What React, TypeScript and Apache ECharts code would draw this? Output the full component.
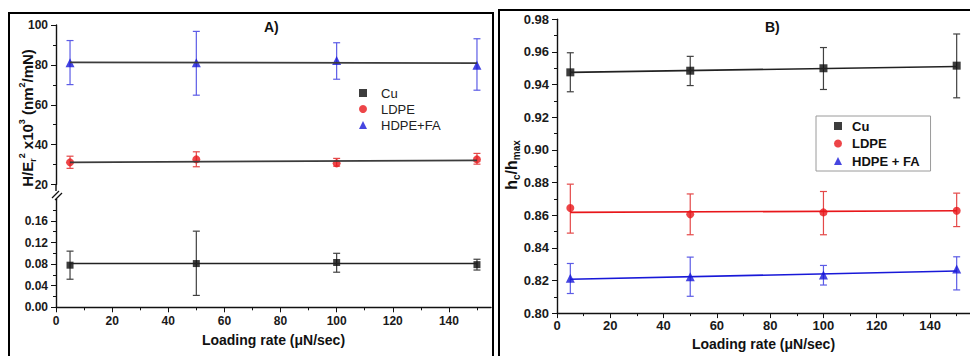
import React, { useEffect, useRef } from 'react';
import * as echarts from 'echarts';

const FONT = '"Liberation Sans", Arial, sans-serif';

const loadingRates = [5, 50, 100, 150];
const fitX = [5, 150];
const xMajorTicks = [0, 20, 40, 60, 80, 100, 120, 140];
const xMinorTicks = [10, 30, 50, 70, 90, 110, 130, 150];

// Panel A — H/Er^2 x10^3 (nm^2/mN)
const aHdpeFaMean = [81.1, 81.1, 82.2, 79.8];
const aHdpeFaLow = [70.1, 64.8, 72.8, 67.3];
const aHdpeFaHigh = [92.2, 96.8, 91.1, 93.1];
const aHdpeFaFit = [81.25, 80.9];

const aLdpeMean = [31.1, 32.6, 30.6, 32.6];
const aLdpeLow = [28.1, 28.9, 29.2, 30.2];
const aLdpeHigh = [34.2, 36.4, 33.1, 35.6];
const aLdpeFit = [31.1, 32.1];

const aCuMean = [0.078, 0.081, 0.083, 0.079];
const aCuLow = [0.052, 0.022, 0.065, 0.069];
const aCuHigh = [0.104, 0.141, 0.1, 0.089];
const aCuFit = [0.081, 0.081];

const aLowerTicks = [0, 0.04, 0.08, 0.12, 0.16];

// Panel B — hc/hmax
const bCuMean = [0.9475, 0.9485, 0.95, 0.9516];
const bCuLow = [0.9356, 0.9394, 0.937, 0.9319];
const bCuHigh = [0.9595, 0.9573, 0.9627, 0.971];
const bCuFit = [0.9475, 0.9511];

const bLdpeMean = [0.8644, 0.8605, 0.8617, 0.8627];
const bLdpeLow = [0.849, 0.848, 0.848, 0.853];
const bLdpeHigh = [0.879, 0.873, 0.8745, 0.8735];
const bLdpeFit = [0.8617, 0.8627];

const bHdpeMean = [0.8213, 0.8223, 0.8233, 0.827];
const bHdpeLow = [0.812, 0.8103, 0.8172, 0.8142];
const bHdpeHigh = [0.8304, 0.8343, 0.8292, 0.8345];
const bHdpeFit = [0.8207, 0.8258];

const BLUE = '#1818d8';
const BLUE_ERR = '#5c5ce6';
const RED = '#e8161a';
const RED_ERR = '#e44848';
const BLACK = '#0d0d0d';
const BLACK_ERR = '#404040';

const errRender = (color: string) => (params: any, api: any) => {
  const x = api.value(0);
  const top = api.coord([x, api.value(2)]);
  const bot = api.coord([x, api.value(1)]);
  const hw = 3.5;
  const style = { stroke: color, lineWidth: 1.2 };
  return {
    type: 'group',
    children: [
      { type: 'line', shape: { x1: top[0], y1: top[1], x2: bot[0], y2: bot[1] }, style },
      { type: 'line', shape: { x1: top[0] - hw, y1: top[1], x2: top[0] + hw, y2: top[1] }, style },
      { type: 'line', shape: { x1: bot[0] - hw, y1: bot[1], x2: bot[0] + hw, y2: bot[1] }, style },
    ],
  };
};

const errSeries = (name: string, low: number[], high: number[], color: string, xi: number, yi: number) => ({
  type: 'custom',
  name,
  xAxisIndex: xi,
  yAxisIndex: yi,
  renderItem: errRender(color),
  encode: { x: 0, y: [1, 2] },
  data: loadingRates.map((x, i) => [x, low[i], high[i]]),
  silent: true,
});

const fitSeries = (name: string, vals: number[], color: string, xi: number, yi: number, width = 1.6) => ({
  type: 'line',
  name,
  xAxisIndex: xi,
  yAxisIndex: yi,
  symbol: 'none',
  lineStyle: { color, width },
  data: fitX.map((x, i) => [x, vals[i]]),
  silent: true,
});

const ptSeries = (name: string, vals: number[], symbol: string, size: number, color: string, xi: number, yi: number) => ({
  type: 'scatter',
  name,
  xAxisIndex: xi,
  yAxisIndex: yi,
  symbol,
  symbolSize: size,
  itemStyle: { color },
  clip: false,
  data: loadingRates.map((x, i) => [x, vals[i]]),
});

const tickLabel = (size: number) => ({
  color: '#1a1a1a',
  fontFamily: FONT,
  fontWeight: 'bold' as const,
  fontSize: size,
});

const axisLine = { show: true, lineStyle: { color: '#111', width: 1.4 } };

export default function App() {
  const ref = useRef<HTMLDivElement>(null);
  useEffect(() => {
    document.body.style.margin = '0';
    if (!ref.current) return;
    const chart = echarts.init(ref.current, undefined, { renderer: 'svg' });
    const option: any = {
      animation: false,
      backgroundColor: '#ffffff',
      title: [
        { text: 'A)', left: 264, top: 20, padding: 0, textStyle: { fontFamily: FONT, fontSize: 14, fontWeight: 'bold', color: '#111' } },
        { text: 'B)', left: 765, top: 20, padding: 0, textStyle: { fontFamily: FONT, fontSize: 14, fontWeight: 'bold', color: '#111' } },
      ],
      legend: [
        {
          orient: 'vertical',
          left: 359,
          top: 85,
          padding: 0,
          itemGap: 0,
          itemWidth: 8,
          itemHeight: 8,
          selectedMode: false,
          data: [
            { name: 'Cu', icon: 'rect' },
            { name: 'LDPE', icon: 'circle' },
            { name: 'HDPE+FA', icon: 'triangle' },
          ],
          textStyle: { fontFamily: FONT, fontSize: 13, color: '#222', lineHeight: 16, padding: [0, 0, 0, 9] },
        },
        {
          orient: 'vertical',
          left: 816,
          top: 116,
          padding: [2, 11, 2, 18],
          itemGap: 1.5,
          itemWidth: 8,
          itemHeight: 8,
          borderColor: '#9a9a9a',
          borderWidth: 1,
          selectedMode: false,
          data: [
            { name: 'Cu', icon: 'rect' },
            { name: 'LDPE', icon: 'circle' },
            { name: 'HDPE + FA', icon: 'triangle' },
          ],
          textStyle: { fontFamily: FONT, fontSize: 13, fontWeight: 'bold', color: '#111', lineHeight: 16, padding: [0, 0, 0, 5] },
        },
      ],
      grid: [
        { left: 56, top: 25, width: 435, height: 159.5 },
        { left: 56, top: 199.3, width: 435, height: 108 },
        { left: 557, top: 19.3, width: 417, height: 295.7 },
      ],
      xAxis: [
        { gridIndex: 0, type: 'value', min: 0, max: 155, show: false },
        {
          gridIndex: 1, type: 'value', min: 0, max: 155, interval: 20, position: 'bottom',
          axisLine,
          axisTick: { show: true, length: 5, customValues: xMajorTicks, lineStyle: { color: '#111' } },
          axisLabel: { ...tickLabel(12), margin: 8, customValues: xMajorTicks },
          splitLine: { show: false },
          name: 'Loading rate (\u03bcN/sec)', nameLocation: 'middle', nameGap: 26,
          nameTextStyle: { fontFamily: FONT, fontSize: 14, fontWeight: 'bold', color: '#111' },
        },
        {
          gridIndex: 1, type: 'value', min: 0, max: 155, position: 'bottom',
          axisLine: { show: false },
          axisTick: { show: true, length: 3, customValues: xMinorTicks, lineStyle: { color: '#111' } },
          axisLabel: { show: false },
          splitLine: { show: false },
        },
        {
          gridIndex: 2, type: 'value', min: 0, max: 155, interval: 20, position: 'bottom',
          axisLine,
          axisTick: { show: true, length: 5, customValues: xMajorTicks, lineStyle: { color: '#111' } },
          axisLabel: { ...tickLabel(13), margin: 6, customValues: xMajorTicks },
          splitLine: { show: false },
          name: 'Loading rate (\u03bcN/sec)', nameLocation: 'middle', nameGap: 21,
          nameTextStyle: { fontFamily: FONT, fontSize: 14, fontWeight: 'bold', color: '#111' },
        },
        {
          gridIndex: 2, type: 'value', min: 0, max: 155, position: 'bottom',
          axisLine: { show: false },
          axisTick: { show: true, length: 3, customValues: xMinorTicks, lineStyle: { color: '#111' } },
          axisLabel: { show: false },
          splitLine: { show: false },
        },
      ],
      yAxis: [
        {
          gridIndex: 0, type: 'value', min: 20, max: 100, interval: 20,
          axisLine,
          axisTick: { show: true, length: 5, lineStyle: { color: '#111' } },
          minorTick: { show: true, splitNumber: 2, length: 3, lineStyle: { color: '#111' } },
          axisLabel: { ...tickLabel(12), margin: 8 },
          splitLine: { show: false },
        },
        {
          gridIndex: 1, type: 'value', min: 0, max: 0.2, interval: 0.04,
          axisLine,
          axisTick: { show: true, length: 5, customValues: aLowerTicks, lineStyle: { color: '#111' } },
          minorTick: { show: true, splitNumber: 2, length: 3, lineStyle: { color: '#111' } },
          axisLabel: { ...tickLabel(12), margin: 8, customValues: aLowerTicks, formatter: (v: number) => v.toFixed(2) },
          splitLine: { show: false },
        },
        {
          gridIndex: 2, type: 'value', min: 0.8, max: 0.98, interval: 0.02,
          axisLine,
          axisTick: { show: true, length: 5, lineStyle: { color: '#111' } },
          minorTick: { show: true, splitNumber: 2, length: 3, lineStyle: { color: '#111' } },
          axisLabel: { ...tickLabel(13), margin: 8, formatter: (v: number) => v.toFixed(2) },
          splitLine: { show: false },
        },
      ],
      graphic: [
        { type: 'rect', shape: { x: 9, y: 13, width: 484, height: 360 }, style: { fill: 'none', stroke: '#000', lineWidth: 2 }, silent: true },
        { type: 'rect', shape: { x: 499, y: 10, width: 480, height: 360 }, style: { fill: 'none', stroke: '#000', lineWidth: 2 }, silent: true },
        { type: 'line', shape: { x1: 56, y1: 184.5, x2: 56, y2: 191 }, style: { stroke: '#111', lineWidth: 1.4 }, silent: true },
        { type: 'line', shape: { x1: 52, y1: 198, x2: 59, y2: 191 }, style: { stroke: '#111', lineWidth: 1.2 }, silent: true },
        { type: 'line', shape: { x1: 55, y1: 200, x2: 62, y2: 193 }, style: { stroke: '#111', lineWidth: 1.2 }, silent: true },
        {
          type: 'text', x: 27, y: 118, rotation: Math.PI / 2, silent: true,
          style: {
            text: '{m|H/E}{s|r}{p|2}{m| x10}{p|3}{m| (nm}{p|2}{m|/mN)}',
            align: 'center', verticalAlign: 'middle',
            rich: {
              m: { fontFamily: FONT, fontSize: 15, fontWeight: 'bold', lineHeight: 20, fill: '#111' },
              p: { fontFamily: FONT, fontSize: 9, fontWeight: 'bold', lineHeight: 10, verticalAlign: 'top', fill: '#111' },
              s: { fontFamily: FONT, fontSize: 9, fontWeight: 'bold', lineHeight: 10, verticalAlign: 'bottom', fill: '#111' },
            },
          },
        },
        {
          type: 'text', x: 511, y: 165, rotation: Math.PI / 2, silent: true,
          style: {
            text: '{m|h}{s|c}{m|/h}{s|max}',
            align: 'center', verticalAlign: 'middle',
            rich: {
              m: { fontFamily: FONT, fontSize: 16, fontWeight: 'bold', lineHeight: 20, fill: '#111' },
              s: { fontFamily: FONT, fontSize: 10, fontWeight: 'bold', lineHeight: 11, verticalAlign: 'bottom', fill: '#111' },
            },
          },
        },
      ],
      series: [
        errSeries('A HDPE+FA err', aHdpeFaLow, aHdpeFaHigh, BLUE_ERR, 0, 0),
        errSeries('A LDPE err', aLdpeLow, aLdpeHigh, RED_ERR, 0, 0),
        fitSeries('A HDPE+FA fit', aHdpeFaFit, '#3c3c3c', 0, 0, 1.8),
        fitSeries('A LDPE fit', aLdpeFit, '#3c3c3c', 0, 0, 1.8),
        ptSeries('HDPE+FA', aHdpeFaMean, 'triangle', 9, BLUE, 0, 0),
        ptSeries('LDPE', aLdpeMean, 'circle', 8, RED, 0, 0),

        errSeries('A Cu err', aCuLow, aCuHigh, BLACK_ERR, 1, 1),
        fitSeries('A Cu fit', aCuFit, '#222', 1, 1, 1.6),
        ptSeries('Cu', aCuMean, 'rect', 7, BLACK, 1, 1),

        errSeries('B Cu err', bCuLow, bCuHigh, BLACK_ERR, 3, 2),
        errSeries('B LDPE err', bLdpeLow, bLdpeHigh, RED_ERR, 3, 2),
        errSeries('B HDPE err', bHdpeLow, bHdpeHigh, BLUE_ERR, 3, 2),
        fitSeries('B Cu fit', bCuFit, '#222', 3, 2, 1.6),
        fitSeries('B LDPE fit', bLdpeFit, RED, 3, 2, 1.6),
        fitSeries('B HDPE fit', bHdpeFit, BLUE, 3, 2, 1.6),
        ptSeries('Cu', bCuMean, 'rect', 8, BLACK, 3, 2),
        ptSeries('LDPE', bLdpeMean, 'circle', 8, RED, 3, 2),
        ptSeries('HDPE + FA', bHdpeMean, 'triangle', 9, BLUE, 3, 2),
      ],
    };
    chart.setOption(option);
    return () => chart.dispose();
  }, []);
  return (
    <div
      ref={ref}
      style={{ position: 'absolute', left: 0, top: 0, width: 970, height: 356, background: '#fff' }}
    />
  );
}
